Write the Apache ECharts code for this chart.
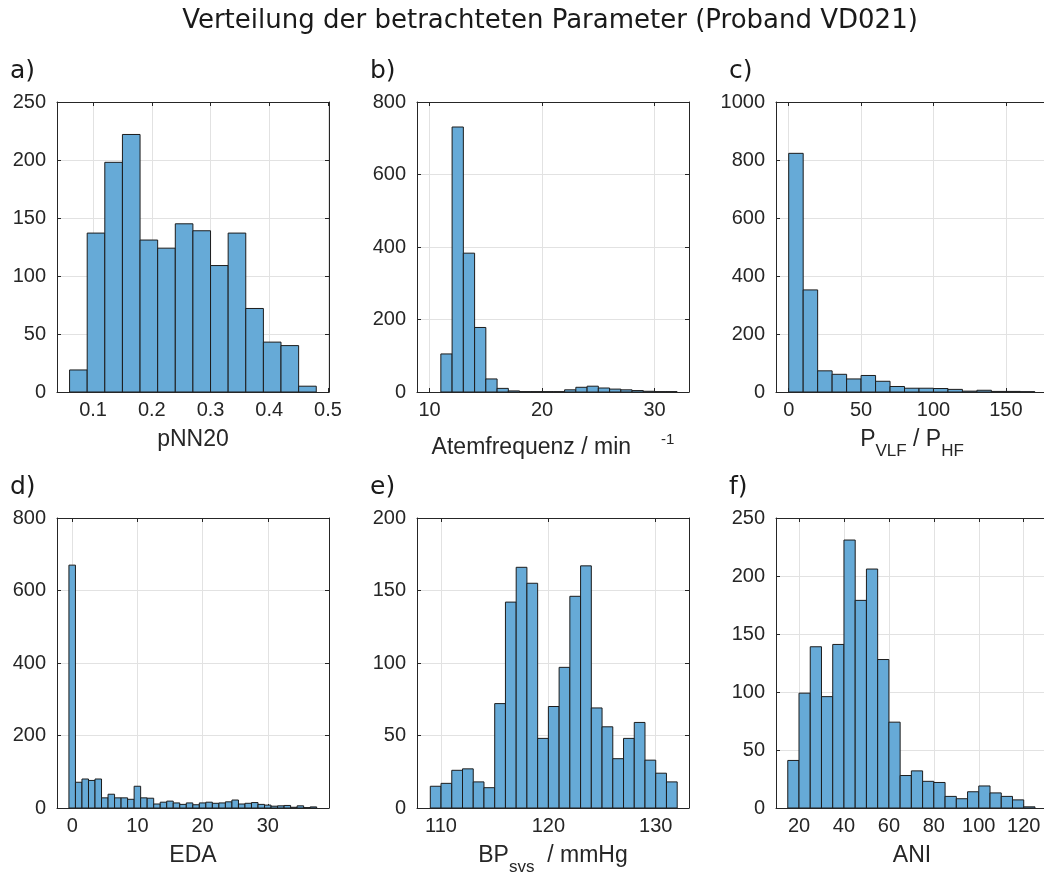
<!DOCTYPE html>
<html>
<head>
<meta charset="utf-8">
<script src="https://cdn.jsdelivr.net/npm/echarts@6/dist/echarts.min.js"></script>
<style>
  html, body { margin: 0; padding: 0; background: #ffffff; }
  #chart { width: 1044px; height: 876px; }
</style>
</head>
<body>
<div id="chart"></div>
<script>
// ---- a) pNN20
const pnnEdges  = [0.06, 0.09, 0.12, 0.15, 0.18, 0.21, 0.24, 0.27, 0.30, 0.33, 0.36, 0.39, 0.42, 0.45, 0.48];
const pnnCounts = [19, 137, 198, 222, 131, 124, 145, 139, 109, 137, 72, 43, 40, 5];
const pnnTicks  = [0.1, 0.2, 0.3, 0.4, 0.5];

// ---- b) Atemfrequenz / min^-1
const afEdges  = [11, 12, 13, 14, 15, 16, 17, 18, 19, 20, 21, 22, 23, 24, 25, 26, 27, 28, 29, 30, 31, 32];
const afCounts = [105, 731, 383, 178, 36, 10, 3, 1, 1, 1, 1, 6, 13, 16, 11, 8, 6, 4, 2, 1, 1];
const afTicks  = [10, 20, 30];

// ---- c) P_VLF / P_HF
const pvEdges  = [0, 10, 20, 30, 40, 50, 60, 70, 80, 90, 100, 110, 120, 130, 140, 150, 160, 170];
const pvCounts = [823, 352, 73, 61, 45, 57, 37, 19, 13, 13, 12, 9, 3, 6, 2, 2, 1];
const pvTicks  = [0, 50, 100, 150];

// ---- d) EDA
const edaEdges  = [-0.5, 0.5, 1.5, 2.5, 3.5, 4.5, 5.5, 6.5, 7.5, 8.5, 9.5, 10.5, 11.5, 12.5, 13.5,
                   14.5, 15.5, 16.5, 17.5, 18.5, 19.5, 20.5, 21.5, 22.5, 23.5, 24.5, 25.5, 26.5,
                   27.5, 28.5, 29.5, 30.5, 31.5, 32.5, 33.5, 34.5, 35.5, 36.5, 37.5];
const edaCounts = [670, 71, 80, 76, 80, 28, 38, 28, 28, 24, 60, 28, 27, 11, 16, 19, 14, 10, 14, 9,
                   14, 16, 13, 14, 17, 22, 11, 13, 15, 10, 8, 5, 6, 7, 2, 6, 1, 3];
const edaTicks  = [0, 10, 20, 30];

// ---- e) BP_svs / mmHg
const bpEdges  = [109, 110, 111, 112, 113, 114, 115, 116, 117, 118, 119, 120, 121, 122, 123, 124,
                  125, 126, 127, 128, 129, 130, 131, 132];
const bpCounts = [15, 17, 26, 27, 18, 14, 72, 142, 166, 155, 48, 70, 97, 146, 167, 69, 56, 34, 48, 59, 33, 24, 18];
const bpTicks  = [110, 120, 130];

// ---- f) ANI
const aniEdges  = [15, 20, 25, 30, 35, 40, 45, 50, 55, 60, 65, 70, 75, 80, 85, 90, 95, 100, 105, 110, 115, 120, 125];
const aniCounts = [41, 99, 139, 96, 141, 231, 179, 206, 128, 74, 28, 32, 23, 22, 10, 8, 14, 19, 13, 10, 7, 1];
const aniTicks  = [20, 40, 60, 80, 100, 120];

const TEXT = '#262626';
const GRIDLINE = '#e2e2e2';
const BAR_FILL = '#66aad7';
const BAR_EDGE = '#1c1c1c';
const TICK_FONT = 'Liberation Sans';
const LABEL_FONT = 'Liberation Sans';
const TITLE_FONT = 'DejaVu Sans';

const PLOT_W = 272, PLOT_H = 290;

const panels = [
  { letter: 'a)', left: 57,  top: 102, edges: pnnEdges, counts: pnnCounts, xTicks: pnnTicks,
    xMin: 0.0386, xMax: 0.5017, yMax: 250, yStep: 50,
    name: '{m|pNN20}' },
  { letter: 'b)', left: 417, top: 102, edges: afEdges, counts: afCounts, xTicks: afTicks,
    xMin: 8.88, xMax: 33.06, yMax: 800, yStep: 200,
    name: '{mp|Atemfrequenz / min}{gap|}{sup|-1}' },
  { letter: 'c)', left: 776, top: 102, edges: pvEdges, counts: pvCounts, xTicks: pvTicks,
    xMin: -8.77, xMax: 179.1, yMax: 1000, yStep: 200,
    name: '{m|P}{sub|VLF}{m| / P}{sub|HF}' },
  { letter: 'd)', left: 57,  top: 518, edges: edaEdges, counts: edaCounts, xTicks: edaTicks,
    xMin: -2.33, xMax: 39.39, yMax: 800, yStep: 200,
    name: '{m|EDA}' },
  { letter: 'e)', left: 417, top: 518, edges: bpEdges, counts: bpCounts, xTicks: bpTicks,
    xMin: 107.76, xMax: 133.1, yMax: 200, yStep: 50,
    name: '{m|BP}{sub|svs}{m|  / mmHg}' },
  { letter: 'f)', left: 776, top: 518, edges: aniEdges, counts: aniCounts, xTicks: aniTicks,
    xMin: 9.76, xMax: 130.8, yMax: 250, yStep: 50,
    name: '{m|ANI}' }
];

const nameRich = {
  m:   { fontFamily: LABEL_FONT, fontSize: 23, color: TEXT, lineHeight: 23, verticalAlign: 'top' },
  mp:  { fontFamily: LABEL_FONT, fontSize: 23, color: TEXT, lineHeight: 23, verticalAlign: 'top', padding: [8, 0, 0, 0] },
  sub: { fontFamily: LABEL_FONT, fontSize: 17, color: TEXT, lineHeight: 17, verticalAlign: 'top', padding: [15, 0, 0, 0] },
  gap: { width: 30, height: 10 },
  sup: { fontFamily: LABEL_FONT, fontSize: 15, color: TEXT, lineHeight: 15, verticalAlign: 'top', padding: [4, 0, 0, 0] }
};

function binsOf(edges, counts) {
  return counts.map((c, i) => [edges[i], edges[i + 1], c]);
}

function renderBin(params, api) {
  const p0 = api.coord([api.value(0), 0]);
  const p1 = api.coord([api.value(1), api.value(2)]);
  return {
    type: 'rect',
    shape: { x: p0[0], y: p1[1], width: p1[0] - p0[0], height: p0[1] - p1[1] },
    style: { fill: BAR_FILL, stroke: BAR_EDGE, lineWidth: 1 }
  };
}

const plainNumber = v => String(v);

const grid = [], xAxis = [], yAxis = [], series = [];
const titles = [{
  text: 'Verteilung der betrachteten Parameter (Proband VD021)',
  left: 545, top: 3, textAlign: 'center',
  textStyle: { fontFamily: TITLE_FONT, fontSize: 26, fontWeight: 'normal', color: '#1a1a1a' }
}];

panels.forEach((p, i) => {
  grid.push({ left: p.left, top: p.top, width: PLOT_W, height: PLOT_H, outerBoundsMode: 'none', containLabel: false });
  titles.push({
    text: p.letter, left: p.left - 52, top: p.top - 48,
    textStyle: { fontFamily: TITLE_FONT, fontSize: 25, fontWeight: 'normal', color: '#1a1a1a' }
  });
  const axisLine = { show: true, onZero: false, lineStyle: { color: TEXT, width: 1 } };
  const tick = { show: true, inside: true, length: 4, lineStyle: { color: TEXT } };
  // bottom x axis (labels, name, grid lines)
  xAxis.push({
    gridIndex: i, type: 'value', position: 'bottom', min: p.xMin, max: p.xMax,
    axisLine: axisLine,
    axisTick: Object.assign({ customValues: p.xTicks }, tick),
    axisLabel: { customValues: p.xTicks, formatter: plainNumber, fontFamily: TICK_FONT, fontSize: 20, color: TEXT, margin: 8 },
    splitLine: { show: true, lineStyle: { color: GRIDLINE, width: 1 } },
    name: p.name, nameLocation: 'middle', nameGap: 36, nameMoveOverlap: false,
    nameTextStyle: { rich: nameRich }
  });
  // top x axis (box edge with ticks)
  xAxis.push({
    gridIndex: i, type: 'value', position: 'top', min: p.xMin, max: p.xMax,
    axisLine: axisLine,
    axisTick: Object.assign({ customValues: p.xTicks }, tick),
    axisLabel: { show: false },
    splitLine: { show: false }
  });
  // left y axis
  yAxis.push({
    gridIndex: i, type: 'value', position: 'left', min: 0, max: p.yMax, interval: p.yStep,
    axisLine: axisLine, axisTick: tick,
    axisLabel: { formatter: plainNumber, fontFamily: TICK_FONT, fontSize: 20, color: TEXT, margin: 11 },
    splitLine: { show: true, lineStyle: { color: GRIDLINE, width: 1 } }
  });
  // right y axis (box edge with ticks)
  yAxis.push({
    gridIndex: i, type: 'value', position: 'right', min: 0, max: p.yMax, interval: p.yStep,
    axisLine: axisLine, axisTick: tick,
    axisLabel: { show: false }, splitLine: { show: false }
  });
  series.push({
    type: 'custom', xAxisIndex: 2 * i, yAxisIndex: 2 * i,
    renderItem: renderBin, clip: true,
    encode: { x: [0, 1], y: 2 },
    data: binsOf(p.edges, p.counts)
  });
});

const chart = echarts.init(document.getElementById('chart'), null, { renderer: 'canvas' });
chart.setOption({
  animation: false,
  backgroundColor: '#ffffff',
  title: titles,
  grid: grid,
  xAxis: xAxis,
  yAxis: yAxis,
  series: series
});
</script>
</body>
</html>
